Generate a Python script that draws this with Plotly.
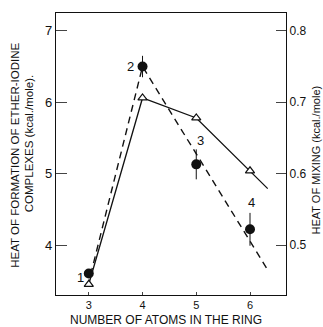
import plotly.graph_objects as go

# Data
ring_sizes = [3, 4, 5, 6]
heat_formation = [3.60, 6.50, 5.13, 4.22]
heat_formation_err = [0.06, 0.15, 0.21, 0.23]
point_labels = ["1", "2", "3", "4"]

fit_x = [2.98, 4.0, 6.33]
fit_y = [3.42, 6.50, 3.65]

mixing_x = [3, 4, 5, 6]
heat_mixing = [0.445, 0.706, 0.678, 0.604]
mixing_line_x = [3, 4, 5, 6, 6.33]
mixing_line_y = [0.445, 0.706, 0.678, 0.604, 0.579]

left_ticks = [4, 5, 6, 7]
right_ticks = [0.5, 0.6, 0.7, 0.8]
x_ticks = [3, 4, 5, 6]

FONT = "Liberation Sans, Arial, sans-serif"
INK = "#111111"

fig = go.Figure()

fig.add_trace(go.Scatter(x=fit_x, y=fit_y, mode="lines",
                         line=dict(color=INK, width=1.4, dash="7px,5px"),
                         showlegend=False, hoverinfo="skip"))
fig.add_trace(go.Scatter(x=ring_sizes, y=heat_formation, mode="markers",
                         marker=dict(color=INK, size=10, symbol="circle"),
                         error_y=dict(type="data", array=heat_formation_err,
                                      color=INK, thickness=1, width=0),
                         showlegend=False))
fig.add_trace(go.Scatter(x=mixing_line_x, y=mixing_line_y, mode="lines",
                         line=dict(color=INK, width=1.3),
                         yaxis="y2", showlegend=False, hoverinfo="skip"))
fig.add_trace(go.Scatter(x=mixing_x, y=heat_mixing, mode="markers",
                         marker=dict(color="white", size=8, symbol="triangle-up",
                                     line=dict(color=INK, width=1.2)),
                         yaxis="y2", showlegend=False))

label_dx = [-0.15, -0.23, 0.07, 0.03]
label_dy = [-0.06, 0.0, 0.33, 0.37]
for xv, yv, t, dx, dy in zip(ring_sizes, heat_formation, point_labels, label_dx, label_dy):
    fig.add_annotation(x=xv + dx, y=yv + dy, text=t, showarrow=False,
                       font=dict(family=FONT, size=13, color=INK),
                       xanchor="center", yanchor="middle")

fig.add_annotation(xref="paper", yref="paper", x=-0.177, y=0.495,
                   text="HEAT OF FORMATION OF ETHER-IODINE", textangle=-90,
                   showarrow=False, font=dict(family=FONT, size=11.5, color=INK),
                   xanchor="center", yanchor="middle")
fig.add_annotation(xref="paper", yref="paper", x=-0.117, y=0.535,
                   text="COMPLEXES (kcal./mole).", textangle=-90,
                   showarrow=False, font=dict(family=FONT, size=11.5, color=INK),
                   xanchor="center", yanchor="middle")
fig.add_annotation(xref="paper", yref="paper", x=1.13, y=0.48,
                   text="HEAT OF MIXING (kcal./mole)", textangle=-90,
                   showarrow=False, font=dict(family=FONT, size=11, color=INK),
                   xanchor="center", yanchor="middle")
fig.add_annotation(xref="paper", yref="paper", x=0.48, y=-0.09,
                   text="NUMBER OF ATOMS IN THE RING",
                   showarrow=False, font=dict(family=FONT, size=12, color=INK),
                   xanchor="center", yanchor="middle")

fig.update_layout(
    width=323, height=327,
    margin=dict(l=56, r=37, t=13, b=32),
    paper_bgcolor="white", plot_bgcolor="white",
    font=dict(family=FONT, size=12, color=INK),
    xaxis=dict(range=[2.39, 6.67], tickvals=x_ticks, ticks="inside", ticklen=3,
               showline=True, linecolor=INK, linewidth=1.2, mirror=True,
               showgrid=False, zeroline=False, tickfont=dict(size=11)),
    yaxis=dict(range=[3.30, 7.25], tickvals=left_ticks, ticks="inside", ticklen=11,
               showline=True, linecolor=INK, linewidth=1.2,
               showgrid=False, zeroline=False, tickfont=dict(size=13)),
    yaxis2=dict(range=[0.430, 0.825], tickvals=right_ticks, ticktext=["0.5", "0.6", "0.7", "0.8"],
                overlaying="y", side="right", ticks="inside", ticklen=10,
                showline=True, linecolor=INK, linewidth=1.2,
                showgrid=False, zeroline=False, tickfont=dict(size=12)),
)

fig.write_html("out.html")
